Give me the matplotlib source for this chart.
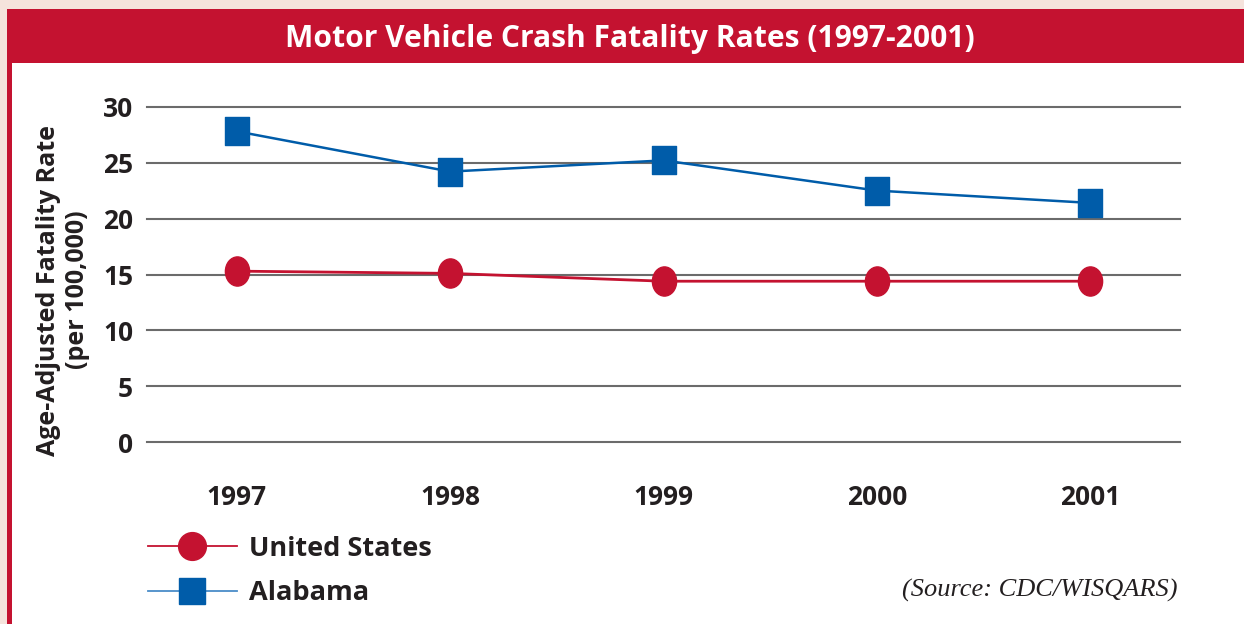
import matplotlib
matplotlib.use("Agg")
import matplotlib.pyplot as plt
from matplotlib.patches import Rectangle
from matplotlib.path import Path
from matplotlib.transforms import Affine2D
from matplotlib.lines import Line2D

years = [1997, 1998, 1999, 2000, 2001]
us_rate = [15.3, 15.1, 14.4, 14.4, 14.4]
alabama_rate = [27.8, 24.2, 25.2, 22.5, 21.4]
y_ticks = [0, 5, 10, 15, 20, 25, 30]

title = "Motor Vehicle Crash Fatality Rates (1997-2001)"
ylabel = "Age-Adjusted Fatality Rate\n(per 100,000)"
source = "(Source: CDC/WISQARS)"

RED = "#c41230"
BLUE = "#005ca9"
PINK = "#f5e3dc"
GRID = "#6b6b6b"
TXT = "#231f20"

plt.rcParams['font.family'] = ['Open Sans', 'DejaVu Sans']

W, H = 1244, 624
fig = plt.figure(figsize=(W / 100, H / 100), dpi=100)
fig.patch.set_facecolor(PINK)

# frame: red box, white inner panel (behind the axes)
fig.patches.append(Rectangle((7 / W, 0), 1, 1 - 9 / H, transform=fig.transFigure,
                             facecolor=RED, edgecolor="none", zorder=-2))
fig.patches.append(Rectangle((12 / W, 0), 1, 1 - 63 / H, transform=fig.transFigure,
                             facecolor="white", edgecolor="none", zorder=-1))
fig.text(630 / W, 1 - 39 / H, title, color="white", fontsize=21.6, fontweight="bold",
         ha="center", va="center")

ax = fig.add_axes([147 / W, 1 - 442.3 / H, (1180 - 147) / W, (442.3 - 106.7) / H])
ax.set_facecolor("none")

# markers in the source are a bit taller than wide
ellipse = Path(Affine2D().scale(0.83, 1.0).transform(Path.unit_circle().vertices),
               Path.unit_circle().codes)
rect = Path(Affine2D().translate(-0.5, -0.5).scale(0.89, 1.0)
            .transform(Path.unit_rectangle().vertices), Path.unit_rectangle().codes)

ax.plot(years, us_rate, color=RED, lw=2.0, marker=ellipse, ms=21, mec=RED, mfc=RED, zorder=3)
ax.plot(years, alabama_rate, color=BLUE, lw=1.8, marker=rect, ms=19.5, mec=BLUE, mfc=BLUE, zorder=3)

ax.set_xlim(1996.58, 2001.42)
ax.set_ylim(0, 30)
ax.set_yticks(y_ticks)
ax.set_xticks(years)
ax.set_xticklabels([str(y) for y in years])
for s in ax.spines.values():
    s.set_visible(False)
ax.tick_params(length=0, labelsize=19, labelcolor=TXT)
ax.tick_params(axis="y", pad=10)
ax.tick_params(axis="x", pad=30)
for lab in ax.get_xticklabels() + ax.get_yticklabels():
    lab.set_fontweight("bold")
ax.grid(axis="y", color=GRID, lw=1.5)
ax.grid(axis="x", visible=False)
for gl in ax.yaxis.get_gridlines():
    gl.set_clip_on(False)
ax.set_axisbelow(True)

fig.text(63 / W, 1 - 290 / H, ylabel, rotation=90, ha="center", va="center",
         fontsize=18, fontweight="bold", color=TXT, linespacing=1.2)

handles = [Line2D([], [], color=RED, lw=1.3, marker="o", ms=20, mfc=RED, mec=RED),
           Line2D([], [], color="#4a8cc8", lw=1.3, marker="s", ms=19, mfc=BLUE, mec=BLUE)]
leg = fig.legend(handles, ["United States", "Alabama"], loc="upper left",
                 bbox_to_anchor=(134 / W, 1 - 522 / H), frameon=False,
                 handlelength=3.3, handletextpad=0.45, labelspacing=0.7,
                 borderpad=0, prop={"size": 19.5, "weight": "bold"})
for t in leg.get_texts():
    t.set_color(TXT)

fig.text(1177 / W, 1 - 590 / H, source, ha="right", va="center", fontsize=19,
         style="italic", family="Liberation Serif", color=TXT)

fig.savefig("out.png", dpi=100, facecolor=fig.get_facecolor())
